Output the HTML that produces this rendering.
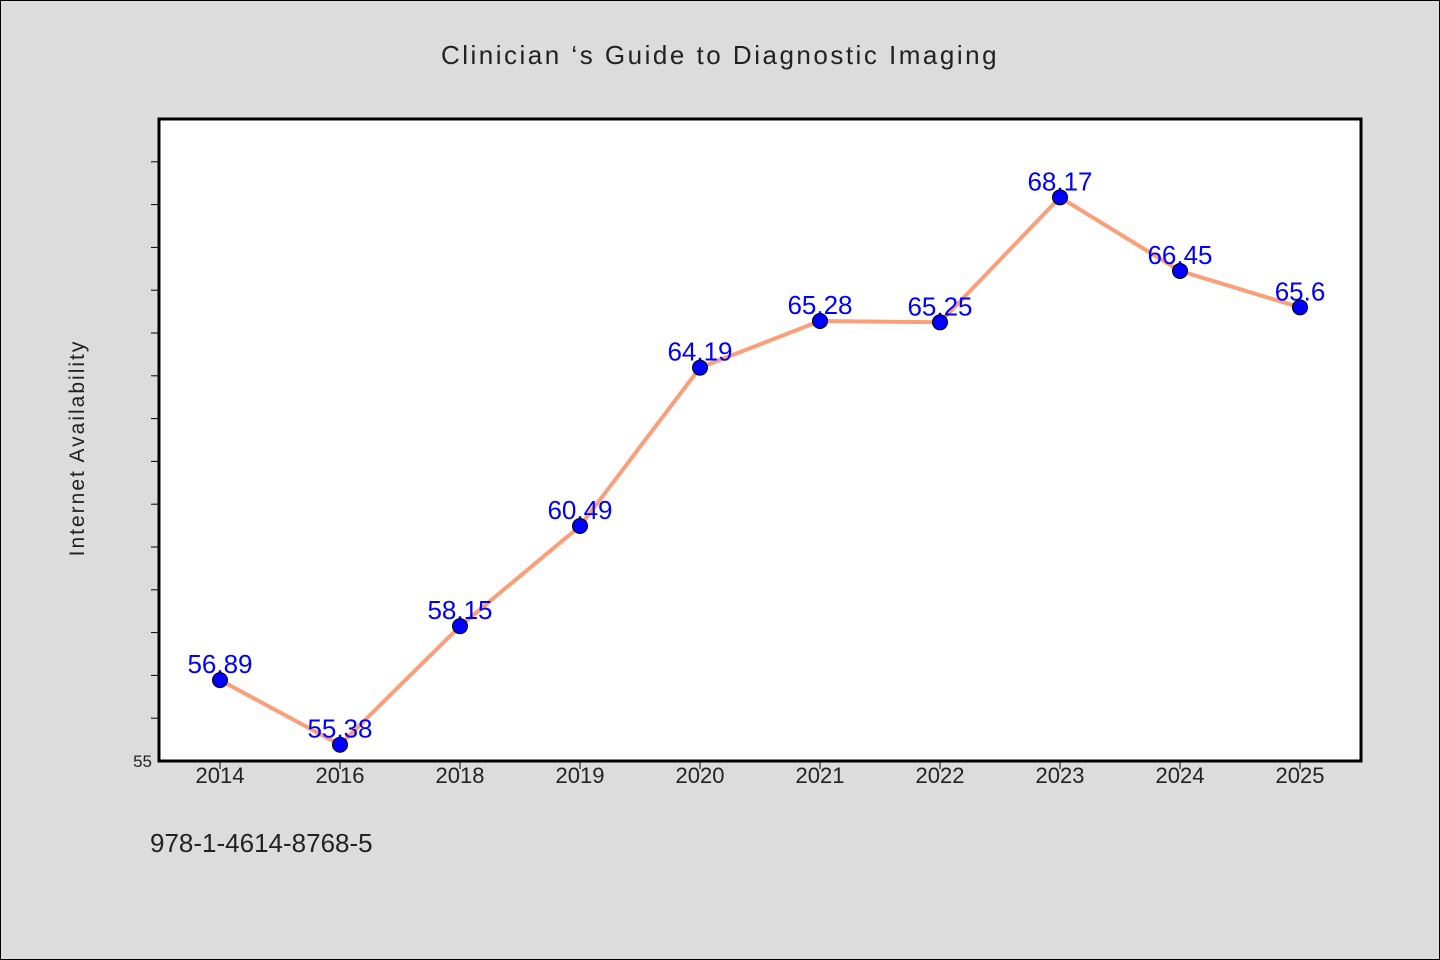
<!DOCTYPE html>
<html><head><meta charset="utf-8"><style>
html,body{margin:0;padding:0;background:#dcdcdc;}
svg{display:block;font-family:"WenQuanYi Zen Hei","Liberation Sans",sans-serif;}
</style></head><body>
<svg id="chart" width="1440" height="960">
<rect x="0.5" y="0.5" width="1439" height="959" fill="#dcdcdc" stroke="#000"/>
<text x="720" y="64" text-anchor="middle" font-size="26" letter-spacing="2.5" fill="#222">Clinician ‘s Guide to Diagnostic Imaging</text>
<rect x="159" y="119" width="1202" height="642" fill="#fff" stroke="#000" stroke-width="3"/>
<text transform="translate(84,448) rotate(-90)" text-anchor="middle" font-size="21" letter-spacing="2" fill="#222">Internet Availability</text>
<text x="150" y="852" font-size="26" fill="#222">978-1-4614-8768-5</text>
<g id="yticks"></g><g id="xticks"></g><g id="series"></g>
</svg>
<script>
const categories=["2014","2016","2018","2019","2020","2021","2022","2023","2024","2025"];
const values=[56.89,55.38,58.15,60.49,64.19,65.28,65.25,68.17,66.45,65.6];
const valueLabels=["56.89","55.38","58.15","60.49","64.19","65.28","65.25","68.17","66.45","65.6"];
const yMin=55,yMax=70;
const NS="http://www.w3.org/2000/svg";
const L=159,R=1361,T=119,B=761;
function x(i){return 220+i*120;}
function y(v){return B-(v-yMin)/(yMax-yMin)*(B-T);}
function mk(t,a,p){const e=document.createElementNS(NS,t);for(const k in a)e.setAttribute(k,a[k]);p.appendChild(e);return e;}
const yt=document.getElementById('yticks');
for(let v=yMin+1;v<yMax;v++){
  const t=mk('line',{x1:L-8,x2:L,y1:y(v),y2:y(v),stroke:'#000','stroke-width':1},yt);
  
  
}
const y0=mk('text',{x:152,y:B+6,'text-anchor':'end','font-size':17,fill:'#222'},yt);
y0.textContent=String(yMin);


const xt=document.getElementById('xticks');
categories.forEach((c,i)=>{
  const t=mk('line',{x1:x(i),x2:x(i),y1:B,y2:B+8,stroke:'#000','stroke-width':1},xt);
  
  
  const l=mk('text',{x:x(i),y:B+22,'text-anchor':'middle','font-size':22,fill:'#222'},xt);
  l.textContent=c;
  
  
});
const s=document.getElementById('series');
const line=mk('polyline',{points:values.map((v,i)=>x(i)+','+y(v)).join(' '),fill:'none',stroke:'#fa9f7a','stroke-width':4,'stroke-linejoin':'round'},s);


values.forEach((v,i)=>{
  const t=mk('text',{x:x(i),y:y(v)-7,'text-anchor':'middle','font-size':26,fill:'#0000ff'},s);
  t.textContent=valueLabels[i];
  
  
});
values.forEach((v,i)=>{
  const c=mk('circle',{cx:x(i),cy:y(v),r:7.5,fill:'#0000ff',stroke:'#000','stroke-width':1},s);
  
  
});
</script>
</body></html>
